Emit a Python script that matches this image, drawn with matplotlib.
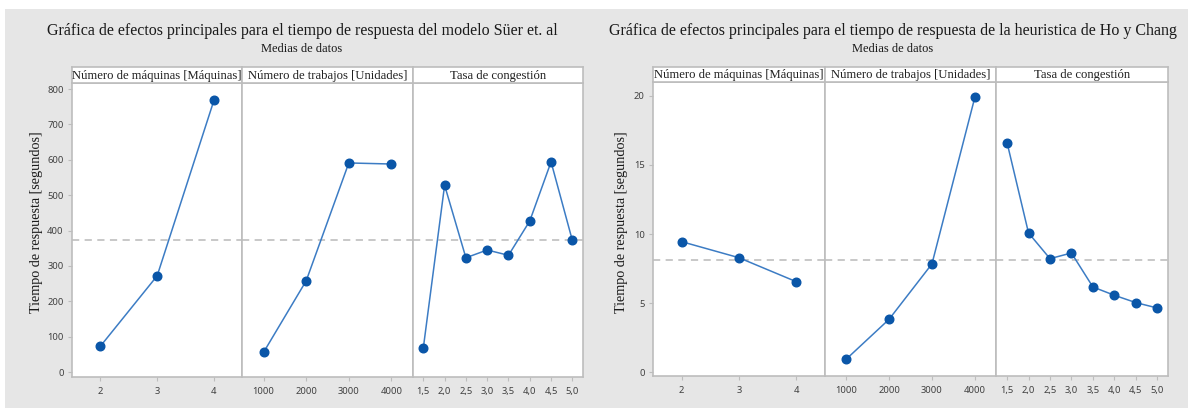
import numpy as np
import matplotlib.pyplot as plt
from matplotlib.patches import Rectangle

# Niveles de los factores
maquinas = ["2", "3", "4"]
trabajos = ["1000", "2000", "3000", "4000"]
congestion = ["1,5", "2,0", "2,5", "3,0", "3,5", "4,0", "4,5", "5,0"]

# Medias del tiempo de respuesta, modelo Süer et. al
suer_maquinas = [73, 272, 768]
suer_trabajos = [56, 258, 591, 588]
suer_congestion = [68, 528, 323, 345, 330, 427, 594, 372]

# Medias del tiempo de respuesta, heurística de Ho y Chang
ho_maquinas = [9.45, 8.29, 6.56]
ho_trabajos = [0.94, 3.83, 7.84, 19.9]
ho_congestion = [16.61, 10.08, 8.22, 8.63, 6.17, 5.57, 5.04, 4.65]

factores = ["Número de máquinas [Máquinas]", "Número de trabajos [Unidades]",
            "Tasa de congestión"]
niveles = [maquinas, trabajos, congestion]

W, H = 1188, 408
FONDO = "#e6e6e6"
BORDE = "#bdbdbd"
AZUL = "#0a56a8"
LINEA = "#3c7cc4"
SERIF = ["Liberation Serif", "DejaVu Serif"]
SANS = ["Noto Sans", "DejaVu Sans"]


def fx(px):
    return px / W


def fy(py):
    return 1 - py / H


def grafica(fig, series, x0, x1, top, bottom, strip_top, ylim, yticks,
            titulo, centro, ylab_x):
    ancho = (x1 - x0) / 3
    media = np.mean([np.mean(s) for s in series])
    for i, (nombre, nivel, vals) in enumerate(zip(factores, niveles, series)):
        ax = fig.add_axes([fx(x0 + i * ancho), fy(bottom), fx(ancho), (bottom - top) / H])
        ax.set_facecolor("white")
        pos = np.arange(len(nivel))
        ax.axhline(media, color="#c4c4c4", lw=1.3, ls=(0, (4, 3)), zorder=1)
        ax.plot(pos, vals, color=LINEA, lw=1.1, zorder=2)
        ax.plot(pos, vals, "o", color=AZUL, ms=6.2, mec=AZUL, zorder=3)
        ax.set_xlim(-0.5, len(nivel) - 0.5)
        ax.set_ylim(*ylim)
        ax.set_xticks(pos)
        ax.set_xticklabels(nivel, fontfamily=SANS, fontsize=6.8, color="#404040")
        for s in ax.spines.values():
            s.set_color(BORDE)
            s.set_linewidth(1.2)
        ax.tick_params(axis="x", length=3, color=BORDE, pad=4)
        if i == 0:
            ax.set_yticks(yticks)
            ax.set_yticklabels([str(t) for t in yticks], fontfamily=SANS,
                               fontsize=6.8, color="#404040")
            ax.tick_params(axis="y", length=3, color=BORDE, pad=3)
        else:
            ax.set_yticks([])

        # Encabezado del panel
        st = fig.add_axes([fx(x0 + i * ancho), fy(top), fx(ancho), (top - strip_top) / H])
        st.set_facecolor("white")
        st.set_xticks([])
        st.set_yticks([])
        for s in st.spines.values():
            s.set_color(BORDE)
            s.set_linewidth(1.2)
        st.text(0.5, 0.45, nombre, ha="center", va="center", fontfamily=SERIF,
                fontsize=9.1, color="#202020", transform=st.transAxes)

    fig.text(fx(centro), fy(31), titulo, ha="center", va="center",
             fontfamily=SERIF, fontsize=11.5, color="#1a1a1a")
    fig.text(fx(centro), fy(49), "Medias de datos", ha="center", va="center",
             fontfamily=SERIF, fontsize=9.0, color="#1a1a1a")
    fig.text(fx(ylab_x), fy(222), "Tiempo de respuesta [segundos]", rotation=90,
             ha="center", va="center", fontfamily=SERIF, fontsize=10.2, color="#1a1a1a")


fig = plt.figure(figsize=(W / 100, H / 100), dpi=100)
fig.patch.set_facecolor(FONDO)
fig.add_artist(Rectangle((0, fy(9)), 1, 1, transform=fig.transFigure,
                         facecolor="white", edgecolor="none", zorder=0))
fig.add_artist(Rectangle((0, 0), fx(5), 1, transform=fig.transFigure,
                         facecolor="white", edgecolor="none", zorder=0))

grafica(fig, [suer_maquinas, suer_trabajos, suer_congestion],
        72, 583, 83, 377, 67, (-14, 817), list(range(0, 801, 100)),
        "Gráfica de efectos principales para el tiempo de respuesta del modelo Süer et. al",
        302, 37)
grafica(fig, [ho_maquinas, ho_trabajos, ho_congestion],
        653, 1168, 82, 376, 67, (-0.27, 21.0), [0, 5, 10, 15, 20],
        "Gráfica de efectos principales para el tiempo de respuesta de la heuristica de Ho y Chang",
        893, 622)

fig.savefig("out.png", dpi=100, facecolor=fig.get_facecolor())
